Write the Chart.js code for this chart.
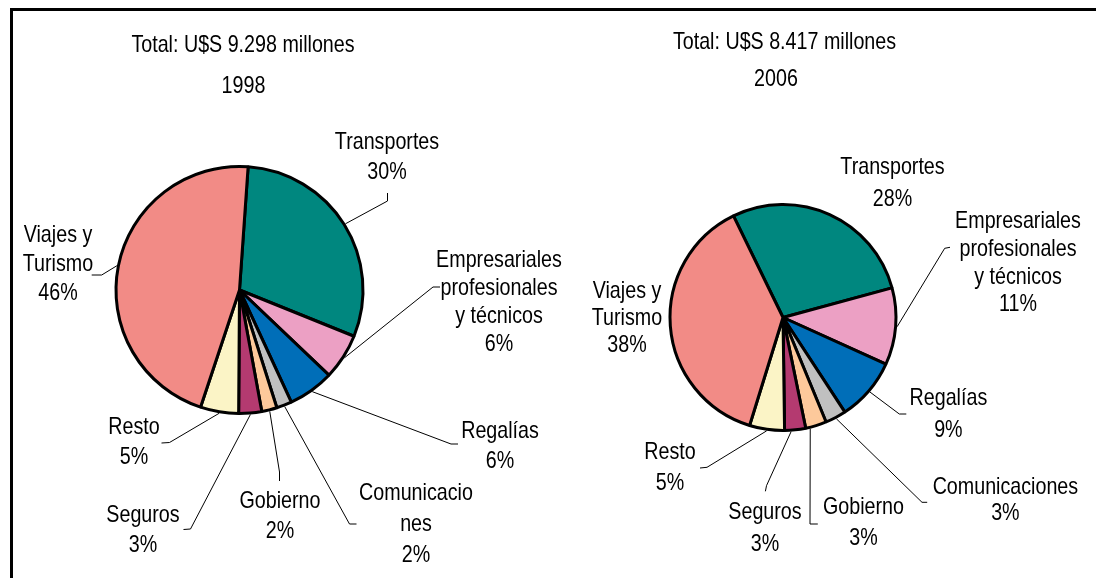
<!DOCTYPE html>
<html>
<head>
<meta charset="utf-8">
<script src="https://cdn.jsdelivr.net/npm/chart.js@4.4.1/dist/chart.umd.min.js"></script>
<style>
  html, body { margin: 0; padding: 0; background: #fff; }
  #wrap { position: relative; width: 1096px; height: 578px; overflow: hidden; }
  #frame { position: absolute; left: 10px; top: 8px; width: 1100px; height: 600px;
           border-top: 3px solid #000; border-left: 3px solid #000; }
  canvas { position: absolute; left: 0; top: 0; }
</style>
</head>
<body>
<div id="wrap">
  <div id="frame"></div>
  <canvas id="pie1998" width="1096" height="578"></canvas>
  <canvas id="pie2006" width="1096" height="578"></canvas>
</div>
<script>
const categories1998 = ['Transportes', 'Empresariales\nprofesionales\ny técnicos', 'Regalías', 'Comunicacio\nnes',
                        'Gobierno', 'Seguros', 'Resto', 'Viajes y\nTurismo'];
const categories2006 = ['Transportes', 'Empresariales\nprofesionales\ny técnicos', 'Regalías', 'Comunicaciones',
                        'Gobierno', 'Seguros', 'Resto', 'Viajes y\nTurismo'];
const shares1998 = [30, 6, 6, 2, 2, 3, 5, 46];
const shares2006 = [28, 11, 9, 3, 3, 3, 5, 38];
const titles1998 = ['Total: U$S 9.298 millones', '1998'];
const titles2006 = ['Total: U$S 8.417 millones', '2006'];

const sliceColors = ['#00877F', '#ECA0C4', '#006EB8', '#C0C0C0', '#FDC99B', '#B43A70', '#FBF4C6', '#F28B86'];
const FONT = '24px "Liberation Sans", Arial, sans-serif';
const SQUEEZE = 0.82; // narrow the type like Arial Narrow

// label placement, relative to the pie centre (x,y = centre of first text line)
const spots1998 = [
  { x: 147.5, y: -148, lh: 30.5, elbow: [148, -89], end: [148, -97] },
  { x: 259.5, y: -30, lh: 28, elbow: [193.5, -3], end: [200.5, -3] },
  { x: 260.5, y: 141, lh: 30, elbow: [211.5, 154], end: [218.5, 154] },
  { x: 176.5, y: 203, lh: 31, elbow: [110, 234], end: [117, 234] },
  { x: 40.5, y: 211, lh: 30, elbow: [40, 182], end: [40, 191] },
  { x: -96.5, y: 225, lh: 30, elbow: [-49, 239], end: [-56, 239.5] },
  { x: -105.5, y: 137, lh: 30, elbow: [-70, 152.5], end: [-78, 153] },
  { x: -181.5, y: -55, lh: 29, elbow: [-137.8, -15], end: [-147.8, -15] }
];
const spots2006 = [
  { x: 109.5, y: -150, lh: 31.5 },
  { x: 235, y: -95.8, lh: 27.7, elbow: [161.7, -69.2], end: [167, -70.2] },
  { x: 165.4, y: 80.5, lh: 32, elbow: [116.3, 96.5], end: [123.3, 96.5] },
  { x: 222.4, y: 169.5, lh: 26, elbow: [139, 184.8], end: [144.2, 184.8] },
  { x: 80.5, y: 189.5, lh: 31, at: 0.8, elbow: [27, 206.5], end: [34.8, 206.5] },
  { x: -18, y: 194.5, lh: 32, at: 0.7, elbow: [-16.5, 168.2], end: [-17.6, 173.8] },
  { x: -113, y: 134.5, lh: 31, elbow: [-76, 149.8], end: [-83, 150.5] },
  { x: -156, y: -26.5, lh: 27 }
];

function narrowText(ctx, text, x, y) {
  ctx.save();
  ctx.translate(x, y);
  ctx.scale(SQUEEZE, 1);
  ctx.fillText(text, 0, 0);
  ctx.restore();
}

// titles, slice labels and leader lines, drawn after the pie
function makeLabels(titles, titlePos, spots) {
  return {
    id: 'pieLabels',
    afterDraw(chart) {
      const ctx = chart.ctx;
      const arcs = chart.getDatasetMeta(0).data;
      const values = chart.data.datasets[0].data;
      const cx = arcs[0].x, cy = arcs[0].y;
      ctx.save();
      ctx.font = FONT;
      ctx.fillStyle = '#000';
      ctx.textAlign = 'center';
      ctx.textBaseline = 'middle';
      titles.forEach((t, k) => narrowText(ctx, t, cx + titlePos[k][0], cy + titlePos[k][1]));
      ctx.strokeStyle = '#000';
      ctx.lineWidth = 1;
      chart.data.labels.forEach((name, i) => {
        const s = spots[i];
        const lines = name.split('\n').concat(values[i] + '%');
        lines.forEach((t, k) => narrowText(ctx, t, cx + s.x, cy + s.y + k * s.lh));
        if (!s.elbow) return;
        const arc = arcs[i];
        const f = typeof s.at === 'number' ? s.at : 0.5;
        const a = arc.startAngle + (arc.endAngle - arc.startAngle) * f;
        const r = arc.outerRadius + 1.5;
        ctx.beginPath();
        ctx.moveTo(cx + Math.cos(a) * r, cy + Math.sin(a) * r);
        ctx.lineTo(cx + s.elbow[0], cy + s.elbow[1]);
        ctx.lineTo(cx + s.end[0], cy + s.end[1]);
        ctx.stroke();
      });
      ctx.restore();
    }
  };
}

function drawPie(canvasId, labels, values, rotation, padding, labelPlugin) {
  const el = document.getElementById(canvasId);
  return new Chart(el.getContext('2d'), {
    type: 'pie',
    data: {
      labels,
      datasets: [{
        data: values,
        backgroundColor: sliceColors,
        borderColor: '#000',
        borderWidth: 3
      }]
    },
    options: {
      responsive: false,
      animation: false,
      rotation,
      layout: { padding },
      plugins: {
        legend: { display: false },
        tooltip: { enabled: false }
      }
    },
    plugins: [labelPlugin]
  });
}

drawPie('pie1998', categories1998, shares1998, 4,
  { left: 114.5, top: 165, right: 731.5, bottom: 163 },
  makeLabels(titles1998, [[3.5, -245], [4, -204]], spots1998));
drawPie('pie2006', categories2006, shares2006, -26,
  { left: 668.5, top: 203, right: 198.5, bottom: 146 },
  makeLabels(titles2006, [[1.5, -275.5], [-7, -238.5]], spots2006));
</script>
</body>
</html>
